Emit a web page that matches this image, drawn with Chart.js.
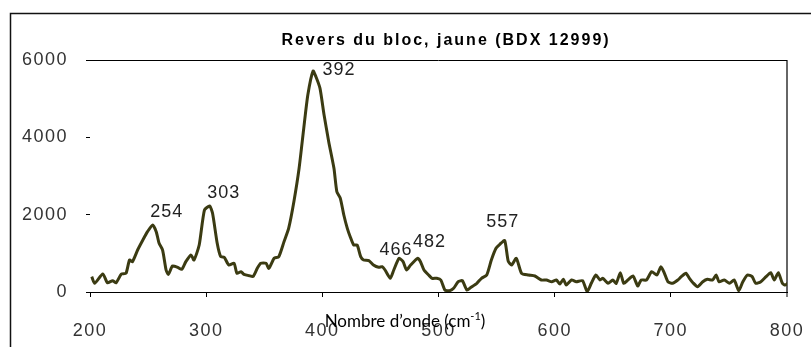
<!DOCTYPE html>
<html>
<head>
<meta charset="utf-8">
<script src="https://cdn.jsdelivr.net/npm/chart.js@4/dist/chart.umd.min.js"></script>
<style>
  html, body { margin: 0; padding: 0; background: #fff; }
  #wrap { width: 811px; height: 347px; }
</style>
</head>
<body>
<div id="wrap"><canvas id="spectre" width="811" height="347"></canvas></div>
<script>
// Raman spectrum, reverse of the block (yellow), BDX 12999
var TITLE = 'Revers du bloc, jaune (BDX 12999)';
var X_TITLE = 'Nombre d\u2019onde (cm';
var X_TITLE_SUP = '-1';

var xTicks = [200, 300, 400, 500, 600, 700, 800];
var yTicks = [0, 2000, 4000, 6000];

// wavenumber (cm-1) and intensity
var wavenumber = [
  201.5, 204, 211, 215, 219.5, 222.5, 227, 231, 234, 236.5,
  241, 245.5, 249.5, 254, 257, 259.5, 262.5, 265.5, 267.5, 271,
  275.5, 279, 282.5, 287, 289.5, 294, 298.5, 303, 305.5, 309.5,
  312.5, 315.5, 319.5, 324, 326.5, 330, 332.5, 337, 340.5, 344,
  347, 351.5, 354, 358.5, 362.5, 367, 371, 375.5, 380, 384,
  387.5, 392, 394.5, 398, 401.5, 405.5, 410, 412.5, 415.5, 418.5,
  421.5, 424, 427, 430, 433, 435.5, 440, 444, 448.5, 451.5,
  454, 458.5, 461.5, 466, 469.5, 472.5, 476, 482, 484.5, 487.5,
  491.5, 494.5, 498.5, 502, 505.5, 509.5, 513, 517, 520.5, 524.5,
  528, 533, 537, 541.5, 545.5, 549.5, 553, 557, 560, 563,
  567, 571.5, 577.5, 583, 588.5, 593, 597.5, 601.5, 604.5, 607.5,
  610, 614.5, 618.5, 624, 628, 631.5, 635.5, 639, 641.5, 646,
  650, 653, 656.5, 659.5, 663, 667.5, 671.5, 674.5, 679, 683.5,
  688, 691.5, 694.5, 697.5, 701.5, 706, 709, 713, 716, 719,
  723, 727.5, 731.5, 736, 739, 741.5, 746, 750.5, 754.5, 758.5,
  762, 766, 770, 773, 777.5, 782, 786, 789, 792.5, 796,
  798.5, 800.5
];
var intensity = [
  396, 225, 465, 240, 292, 240, 465, 483, 828, 784,
  1086, 1345, 1560, 1733, 1560, 1259, 1086, 569, 457, 672,
  638, 586, 784, 957, 828, 1215, 2120, 2224, 2035, 1259,
  913, 900, 698, 742, 483, 525, 457, 422, 405, 612,
  742, 742, 612, 871, 913, 1301, 1646, 2335, 3199, 4233,
  5094, 5715, 5568, 5267, 4577, 3887, 3199, 2594, 2423, 1991,
  1646, 1430, 1215, 1215, 913, 828, 810, 698, 638, 655,
  569, 354, 569, 871, 784, 569, 698, 871, 784, 569,
  440, 354, 354, 310, 52, 34, 96, 266, 292, 52,
  122, 225, 354, 440, 828, 1130, 1240, 1330, 800, 698,
  871, 483, 440, 414, 310, 310, 266, 310, 207, 328,
  181, 310, 266, 292, 8, 225, 440, 310, 354, 225,
  310, 225, 500, 225, 310, 414, 155, 310, 310, 525,
  440, 655, 483, 266, 225, 310, 397, 483, 354, 241,
  138, 266, 328, 310, 440, 266, 310, 225, 310, 34,
  266, 440, 397, 225, 266, 397, 500, 310, 500, 225,
  181, 225
];

// annotated peaks
var peaks = [254, 303, 392, 466, 482, 557];

var LINE_COLOR = '#3b3b12';
var TICK_FONT = { family: '"Liberation Sans", Arial, sans-serif', size: 18 };

function intensityAt(wn) {
  var i = wavenumber.indexOf(wn);
  return i < 0 ? null : intensity[i];
}

function plainTick(v) { return String(v); }

// where each peak label sits relative to its peak, in px
var labelShift = {
  254: [14, -13], 303: [14, -13], 392: [26, -1],
  466: [-3, -8], 482: [12, -16], 557: [-2, -19]
};

var decorPlugin = {
  id: 'decor',
  beforeDraw: function (chart) {
    chart.ctx.letterSpacing = '1.5px';
  },
  afterDraw: function (chart) {
    var ctx = chart.ctx;
    var xs = chart.scales.x, ys = chart.scales.y;
    ctx.save();

    // outer frame
    ctx.letterSpacing = '0px';
    ctx.strokeStyle = '#111';
    ctx.lineWidth = 1.5;
    ctx.beginPath();
    ctx.moveTo(10.5, chart.height + 2);
    ctx.lineTo(10.5, 13.5);
    ctx.lineTo(chart.width + 2, 13.5);
    ctx.stroke();

    // title
    ctx.letterSpacing = '2px';
    ctx.fillStyle = '#000';
    ctx.font = 'bold 16px "Liberation Sans", Arial, sans-serif';
    ctx.textAlign = 'center';
    ctx.textBaseline = 'middle';
    ctx.fillText(TITLE, 446, 41);

    // peak labels
    ctx.letterSpacing = '1px';
    ctx.font = '18px "Liberation Sans", Arial, sans-serif';
    ctx.fillStyle = '#222';
    peaks.forEach(function (p) {
      var s = labelShift[p] || [0, -12];
      var px = xs.getPixelForValue(p);
      var py = ys.getPixelForValue(intensityAt(p));
      ctx.fillText(String(p), px + s[0], py + s[1]);
    });

    // x axis title with superscript
    ctx.letterSpacing = '0px';
    ctx.textAlign = 'left';
    ctx.textBaseline = 'alphabetic';
    var mainFont = '17px Lato, "Noto Sans", sans-serif';
    var supFont = '11px Lato, "Noto Sans", sans-serif';
    ctx.font = mainFont;
    var w1 = ctx.measureText(X_TITLE).width;
    var w3 = ctx.measureText(')').width;
    ctx.font = supFont;
    var w2 = ctx.measureText(X_TITLE_SUP).width;
    var x0 = 405 - (w1 + w2 + w3) / 2, base = 327;
    ctx.fillStyle = '#000';
    ctx.font = mainFont;
    ctx.fillText(X_TITLE, x0, base);
    ctx.font = supFont;
    ctx.fillText(X_TITLE_SUP, x0 + w1, base - 7);
    ctx.font = mainFont;
    ctx.fillText(')', x0 + w1 + w2, base);

    ctx.restore();
  }
};

new Chart(document.getElementById('spectre'), {
  type: 'line',
  data: {
    datasets: [{
      label: 'BDX 12999',
      data: wavenumber.map(function (w, i) { return { x: w, y: intensity[i] }; }),
      borderColor: LINE_COLOR,
      borderWidth: 3,
      pointRadius: 0,
      tension: 0.2,
      fill: false
    }]
  },
  options: {
    responsive: false,
    animation: false,
    events: [],
    layout: { padding: { left: 0, right: 24, top: 60, bottom: 0 } },
    plugins: { legend: { display: false }, tooltip: { enabled: false } },
    scales: {
      x: {
        type: 'linear', min: 200, max: 800,
        afterFit: function (s) { s.height = 55; s.paddingLeft = 0; s.paddingRight = 0; },
        afterBuildTicks: function (s) { s.ticks = xTicks.map(function (v) { return { value: v }; }); },
        ticks: { font: TICK_FONT, color: '#333', padding: 23, maxRotation: 0, callback: plainTick },
        border: { display: true, color: '#000', width: 1 },
        grid: {
          color: function (c) { return c.tick && c.tick.value === 800 ? '#666' : 'rgba(0,0,0,0)'; },
          lineWidth: function (c) { return c.tick && c.tick.value === 800 ? 2 : 1; },
          tickColor: '#000', tickLength: 5, tickWidth: 1
        }
      },
      y: {
        min: 0, max: 6000,
        afterFit: function (s) { s.width = 90; s.paddingTop = 0; s.paddingBottom = 0; },
        afterBuildTicks: function (s) { s.ticks = yTicks.map(function (v) { return { value: v }; }); },
        ticks: { font: TICK_FONT, color: '#333', padding: 18, callback: plainTick },
        border: { display: false },
        grid: {
          color: function (c) { return c.tick && c.tick.value === 6000 ? '#000' : 'rgba(0,0,0,0)'; },
          tickColor: '#000', tickLength: 4, tickWidth: 1
        }
      }
    }
  },
  plugins: [decorPlugin]
});
</script>
</body>
</html>
